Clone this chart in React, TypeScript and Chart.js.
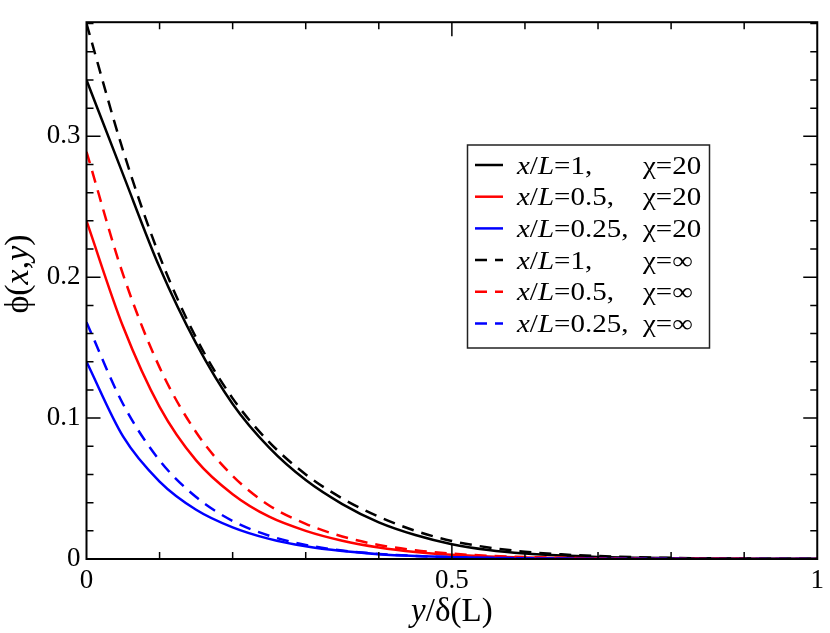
import React, { useEffect, useRef } from 'react';
import { Chart, registerables } from 'chart.js';

Chart.register(...registerables);

// y/δ(L) sample positions
const yOverDelta = [0, 0.05, 0.1, 0.15, 0.2, 0.25, 0.3, 0.35, 0.4, 0.45, 0.5, 0.55, 0.6, 0.65, 0.7, 0.75, 0.8, 0.85, 0.9, 0.95, 1];

// φ(x,y), χ = 20
const phiX1Chi20 = [0.34, 0.273, 0.207, 0.153, 0.11, 0.079, 0.056, 0.039, 0.026, 0.017, 0.0105, 0.0064, 0.0039, 0.0024, 0.0015, 0.0009, 0.0006, 0.0004, 0.0002, 0.0001, 0.0001];
const phiX05Chi20 = [0.24, 0.165, 0.108, 0.07, 0.046, 0.03, 0.02, 0.013, 0.0082, 0.005, 0.003, 0.0018, 0.0011, 0.0007, 0.0004, 0.0003, 0.0002, 0.0001, 0.0001, 0, 0];
const phiX025Chi20 = [0.14, 0.087, 0.055, 0.035, 0.0225, 0.0143, 0.009, 0.0056, 0.0034, 0.0021, 0.0013, 0.0008, 0.0005, 0.0003, 0.0002, 0.0001, 0.0001, 0, 0, 0, 0];

// χ = ∞
const phiX1ChiInf = [0.38, 0.29, 0.215, 0.157, 0.114, 0.083, 0.06, 0.043, 0.03, 0.02, 0.0128, 0.0082, 0.0052, 0.0033, 0.0021, 0.0013, 0.0008, 0.0005, 0.0003, 0.0002, 0.0001];
const phiX05ChiInf = [0.289, 0.202, 0.136, 0.09, 0.059, 0.038, 0.025, 0.016, 0.01, 0.0062, 0.0038, 0.0023, 0.0014, 0.0008, 0.0005, 0.0003, 0.0002, 0.0001, 0.0001, 0, 0];
const phiX025ChiInf = [0.168, 0.11, 0.07, 0.044, 0.027, 0.0165, 0.01, 0.006, 0.0036, 0.0022, 0.0013, 0.0008, 0.0005, 0.0003, 0.0002, 0.0001, 0.0001, 0, 0, 0, 0];

const xOverL = ['1', '0.5', '0.25', '1', '0.5', '0.25'];
const chiLabels = ['20', '20', '20', '∞', '∞', '∞'];

const SERIF = '"Liberation Serif", "DejaVu Serif", serif';
const DASH = [12, 8];

type Run = { text: string; italic?: boolean };

// draws mixed italic / upright text; sx stretches it horizontally
function drawRuns(ctx: CanvasRenderingContext2D, runs: Run[], x: number, y: number, size: number, center = false, sx = 1) {
  const fontOf = (r: Run) => `${r.italic ? 'italic ' : ''}${size}px ${SERIF}`;
  let total = 0;
  runs.forEach(r => { ctx.font = fontOf(r); total += ctx.measureText(r.text).width; });
  ctx.save();
  ctx.translate(center ? x - (total * sx) / 2 : x, y);
  ctx.scale(sx, 1);
  let cx = 0;
  runs.forEach(r => {
    ctx.font = fontOf(r);
    ctx.fillText(r.text, cx, 0);
    cx += ctx.measureText(r.text).width;
  });
  ctx.restore();
}

// frame, inward ticks, legend and axis titles
const decorPlugin = {
  id: 'decor',
  afterDraw(chart: any) {
    const { ctx, chartArea: a, scales } = chart;
    const xs = scales.x;
    const ys = scales.y;
    ctx.save();
    ctx.strokeStyle = '#000';
    ctx.lineWidth = 1.5;
    ctx.beginPath();
    xs.ticks.forEach((t: any) => {
      if (t.value <= 0 || t.value >= 1) return;
      const px = xs.getPixelForValue(t.value);
      const len = t.label !== '' ? 14 : 7;
      ctx.moveTo(px, a.bottom); ctx.lineTo(px, a.bottom - len);
      ctx.moveTo(px, a.top); ctx.lineTo(px, a.top + len);
    });
    ys.ticks.forEach((t: any) => {
      if (t.value <= 0) return;
      const py = ys.getPixelForValue(t.value);
      const len = t.label !== '' ? 14 : 7;
      ctx.moveTo(a.left, py); ctx.lineTo(a.left + len, py);
      ctx.moveTo(a.right, py); ctx.lineTo(a.right - len, py);
    });
    ctx.stroke();
    ctx.lineWidth = 2;
    ctx.strokeRect(a.left, a.top, a.right - a.left, a.bottom - a.top);

    // legend
    const bx = 467.5, by = 145, bw = 242, bh = 203;
    ctx.fillStyle = '#fff';
    ctx.fillRect(bx, by, bw, bh);
    ctx.strokeStyle = '#222';
    ctx.lineWidth = 1.5;
    ctx.strokeRect(bx, by, bw, bh);
    ctx.fillStyle = '#000';
    ctx.textBaseline = 'alphabetic';
    chart.data.datasets.forEach((ds: any, i: number) => {
      const cy = 165 + i * 31.7;
      ctx.strokeStyle = ds.borderColor;
      ctx.lineWidth = 2.5;
      ctx.setLineDash(ds.borderDash || []);
      ctx.beginPath();
      ctx.moveTo(475, cy); ctx.lineTo(503, cy);
      ctx.stroke();
      ctx.setLineDash([]);
      drawRuns(ctx, [{ text: 'x', italic: true }, { text: '/' }, { text: 'L', italic: true }, { text: `=${xOverL[i]},` }], 517, cy + 8.5, 25, false, 1.16);
      drawRuns(ctx, [{ text: `χ=${chiLabels[i]}` }], 643, cy + 8.5, 25, false, 1.16);
    });

    // axis titles
    drawRuns(ctx, [{ text: 'y', italic: true }, { text: '/δ(L)' }], (a.left + a.right) / 2, 621, 33, true);
    ctx.translate(28, 274);
    ctx.rotate(-Math.PI / 2);
    drawRuns(ctx, [{ text: 'ϕ(' }, { text: 'x', italic: true }, { text: ',' }, { text: 'y', italic: true }, { text: ')' }], 0, 0, 34, true);
    ctx.restore();
  },
};

export default function App() {
  const canvasRef = useRef<HTMLCanvasElement>(null);

  useEffect(() => {
    document.body.style.margin = '0';
    if (!canvasRef.current) return;

    const series = [
      { data: phiX1Chi20, color: '#000000', dash: [] as number[] },
      { data: phiX05Chi20, color: '#ff0000', dash: [] as number[] },
      { data: phiX025Chi20, color: '#0000ff', dash: [] as number[] },
      { data: phiX1ChiInf, color: '#000000', dash: DASH },
      { data: phiX05ChiInf, color: '#ff0000', dash: DASH },
      { data: phiX025ChiInf, color: '#0000ff', dash: DASH },
    ];

    const chart = new Chart(canvasRef.current, {
      type: 'line',
      data: {
        datasets: series.map((s, i) => ({
          label: `x/L=${xOverL[i]}, χ=${chiLabels[i]}`,
          data: yOverDelta.map((x, j) => ({ x, y: s.data[j] })),
          borderColor: s.color,
          borderDash: s.dash,
          borderWidth: 2.5,
          pointRadius: 0,
          fill: false,
          cubicInterpolationMode: 'monotone' as const,
          order: 6 - i,
        })),
      },
      options: {
        responsive: false,
        animation: false,
        layout: { padding: { top: 6, right: 10, left: 0, bottom: 0 } },
        plugins: { legend: { display: false }, tooltip: { enabled: false } },
        scales: {
          x: {
            type: 'linear',
            min: 0,
            max: 1,
            grid: { display: false, drawTicks: false },
            border: { display: false },
            afterFit: (scale: any) => { scale.height = 74; },
            ticks: {
              stepSize: 0.1,
              autoSkip: false,
              maxRotation: 0,
              includeBounds: false,
              padding: 6,
              color: '#000',
              font: { family: SERIF, size: 27 },
              callback: (v: any) => {
                const n = Number(v);
                const r = Math.round(n * 2);
                return Math.abs(n * 2 - r) < 1e-6 ? String(r / 2) : '';
              },
            },
          },
          y: {
            type: 'linear',
            min: 0,
            max: 0.381,
            grid: { display: false, drawTicks: false },
            border: { display: false },
            afterFit: (scale: any) => { scale.width = 86.5; },
            ticks: {
              stepSize: 0.02,
              autoSkip: false,
              includeBounds: false,
              padding: 6,
              color: '#000',
              font: { family: SERIF, size: 27 },
              callback: (v: any) => {
                const n = Number(v);
                const r = Math.round(n * 10);
                return Math.abs(n * 10 - r) < 1e-6 ? String(r / 10) : '';
              },
            },
          },
        },
      },
      plugins: [decorPlugin],
    });

    return () => chart.destroy();
  }, []);

  return (
    <div style={{ width: 830, height: 633, background: '#fff' }}>
      <canvas ref={canvasRef} width={830} height={633} />
    </div>
  );
}
